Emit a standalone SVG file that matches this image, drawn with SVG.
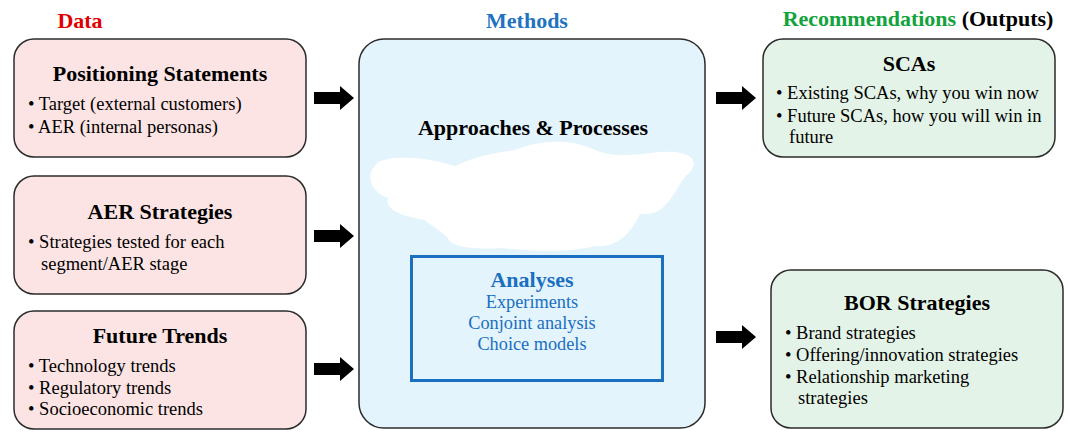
<svg xmlns="http://www.w3.org/2000/svg" width="1070" height="443" viewBox="0 0 1070 443">
<style>
.box{stroke:#2b2b2b;stroke-width:1.5}
.data{fill:#fce4e4}
.out{fill:#e4f3e7}
.t{font-family:"Liberation Serif",serif;font-weight:bold;font-size:22px;fill:#000;text-anchor:middle}
.b{font-family:"Liberation Serif",serif;font-size:18.5px;fill:#000}
.h{font-family:"Liberation Serif",serif;font-weight:bold;font-size:22px;text-anchor:middle}
.an{font-family:"Liberation Serif",serif;font-size:18.3px;fill:#1a6fc0;text-anchor:middle}
</style>
<defs>
<path id="arr" d="M0,-6 H26 V-12 L40,0 L26,12 V6 H0 Z" fill="#000"/>
</defs>
<rect width="1070" height="443" fill="#fff"/>
<text class="h" x="80" y="28" fill="#e00000">Data</text>
<text class="h" x="527" y="28" fill="#1f73c1">Methods</text>
<text class="h" x="918" y="26"><tspan fill="#12a33c">Recommendations</tspan> <tspan fill="#000">(Outputs)</tspan></text>

<g id="positioning">
<rect class="box data" x="14" y="39" width="292" height="118" rx="20"/>
<text class="t" x="160" y="81">Positioning Statements</text>
<text class="b" x="28" y="110">• Target (external customers)</text>
<text class="b" x="28" y="133">• AER (internal personas)</text>
</g>
<g id="aer">
<rect class="box data" x="14" y="176" width="292" height="118" rx="20"/>
<text class="t" x="160" y="219">AER Strategies</text>
<text class="b" x="28" y="248">• Strategies tested for each</text>
<text class="b" x="41" y="270">segment/AER stage</text>
</g>
<g id="trends">
<rect class="box data" x="14" y="311" width="292" height="118" rx="20"/>
<text class="t" x="160" y="343">Future Trends</text>
<text class="b" x="28" y="372">• Technology trends</text>
<text class="b" x="28" y="394">• Regulatory trends</text>
<text class="b" x="28" y="415">• Socioeconomic trends</text>
</g>
<g id="methods">
<rect class="box" x="359" y="39" width="346" height="389" rx="25" fill="#e3f4fc"/>
<text class="t" x="533" y="135">Approaches &amp; Processes</text>
<path d="M378,162 C395,154 430,158 455,166 C475,156 500,152 515,150 C540,140 570,138 595,150 C615,158 630,155 660,152 C690,150 700,160 690,172 C680,180 676,195 665,205 C660,212 650,215 640,214 C632,230 620,248 595,246 C570,252 540,252 500,248 C470,250 450,246 448,238 C440,230 430,225 425,220 C400,215 385,210 388,198 C375,194 366,180 372,170 Z" fill="#fff"/>
<rect x="411.5" y="256.5" width="251" height="124" fill="none" stroke="#1a6fc0" stroke-width="3"/>
<text class="h" x="532" y="287" fill="#1a6fc0">Analyses</text>
<text class="an" x="532" y="308">Experiments</text>
<text class="an" x="532" y="329">Conjoint analysis</text>
<text class="an" x="532" y="350">Choice models</text>
</g>
<g id="scas">
<rect class="box out" x="763" y="39" width="292" height="118" rx="20"/>
<text class="t" x="909" y="71">SCAs</text>
<text class="b" x="776" y="99">• Existing SCAs, why you win now</text>
<text class="b" x="776" y="122">• Future SCAs, how you will win in</text>
<text class="b" x="789" y="143">future</text>
</g>
<g id="bor">
<rect class="box out" x="771" y="270" width="292" height="158" rx="20"/>
<text class="t" x="917" y="310">BOR Strategies</text>
<text class="b" x="785" y="339">• Brand strategies</text>
<text class="b" x="785" y="361">• Offering/innovation strategies</text>
<text class="b" x="785" y="383">• Relationship marketing</text>
<text class="b" x="798" y="404">strategies</text>
</g>
<g id="connectors">
<use href="#arr" x="314" y="98"/>
<use href="#arr" x="314" y="236"/>
<use href="#arr" x="314" y="369"/>
<use href="#arr" x="716" y="98"/>
<use href="#arr" x="716" y="337"/>
</g>
</svg>
